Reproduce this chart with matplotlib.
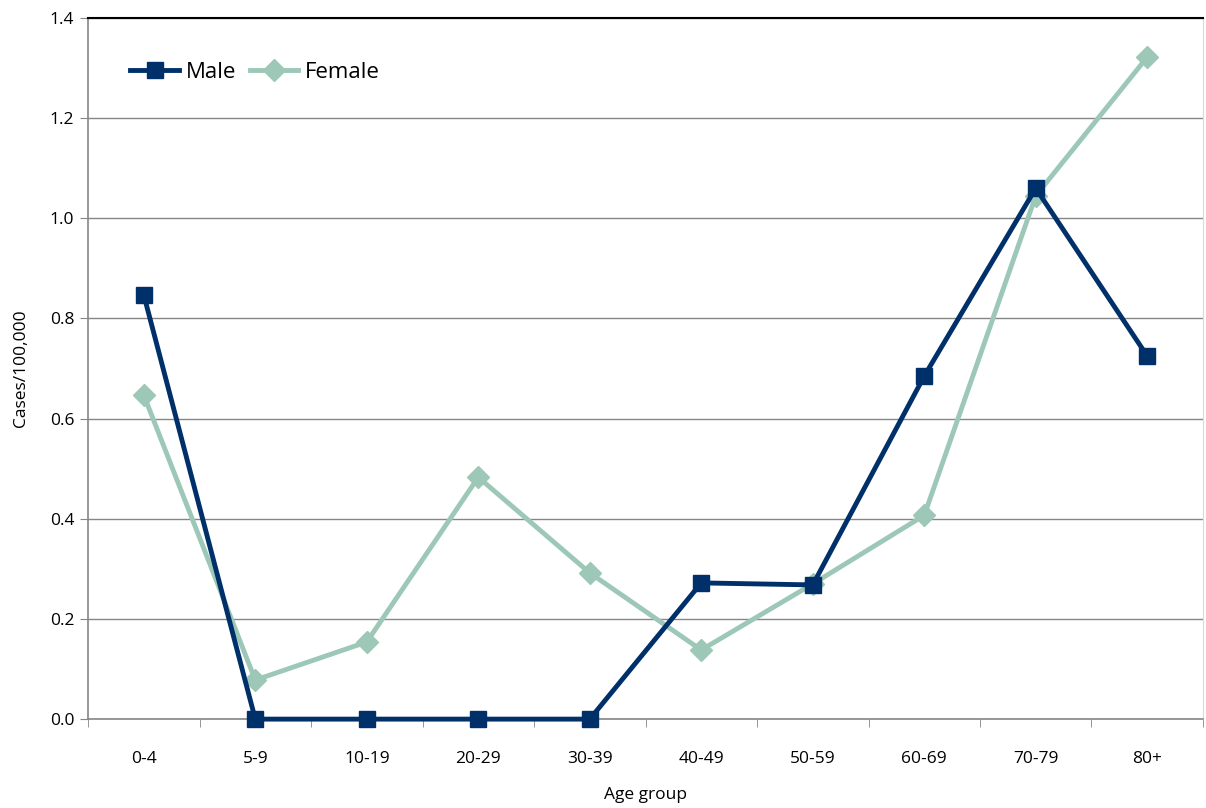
import numpy as np
import matplotlib.pyplot as plt

plt.rcParams['font.family'] = ['Open Sans', 'DejaVu Sans']

age_groups = ["0-4", "5-9", "10-19", "20-29", "30-39", "40-49", "50-59", "60-69", "70-79", "80+"]
male   = [0.847, 0.0, 0.0, 0.0, 0.0, 0.272, 0.268, 0.685, 1.060, 0.725]
female = [0.647, 0.078, 0.154, 0.483, 0.292, 0.138, 0.270, 0.407, 1.045, 1.322]

x = np.arange(len(age_groups))

fig = plt.figure(figsize=(12.06, 8.08), dpi=100)
ax = fig.add_axes([0.073, 0.110, 0.9245, 0.8677])

ax.plot(x, male, color="#00306A", linewidth=3.5, marker="s", markersize=12, label="Male",
        zorder=3, clip_on=False)
ax.plot(x, female, color="#9DC8B8", linewidth=3.5, marker="D", markersize=11, label="Female",
        zorder=2, clip_on=False)

ax.set_xlim(-0.5, len(age_groups) - 0.5)
ax.set_ylim(0, 1.4)
ax.set_yticks(np.arange(0, 1.41, 0.2))
ax.set_yticklabels([f"{v:.1f}" for v in np.arange(0, 1.41, 0.2)], fontsize=12.5)
ax.set_xticks(x)
ax.set_xticklabels(age_groups, fontsize=12.5)
ax.set_xticks(np.arange(-0.5, len(age_groups), 1), minor=True)
ax.tick_params(axis='x', which='major', length=0, pad=23)
ax.tick_params(axis='x', which='minor', length=6, color="#868686")
ax.tick_params(axis='y', length=6, color="#868686", pad=4)

ax.grid(axis='y', color="#868686", linewidth=1)
ax.set_axisbelow(True)
for s in ["left", "bottom"]:
    ax.spines[s].set_color("#868686")
    ax.spines[s].set_linewidth(1.2)
ax.spines["top"].set_color("black")
ax.spines["top"].set_linewidth(1.5)
ax.spines["right"].set_color("#d9d9d9")

ax.set_xlabel("Age group", fontsize=12.5, labelpad=14)
ax.set_ylabel("Cases/100,000", fontsize=12.5, labelpad=15)

ax.legend(loc="upper left", bbox_to_anchor=(0.02, 0.966), ncol=2, frameon=False, fontsize=16,
          handlelength=2.2, columnspacing=0.6, handletextpad=0.3)

plt.savefig('out.png')
plt.close(fig)
